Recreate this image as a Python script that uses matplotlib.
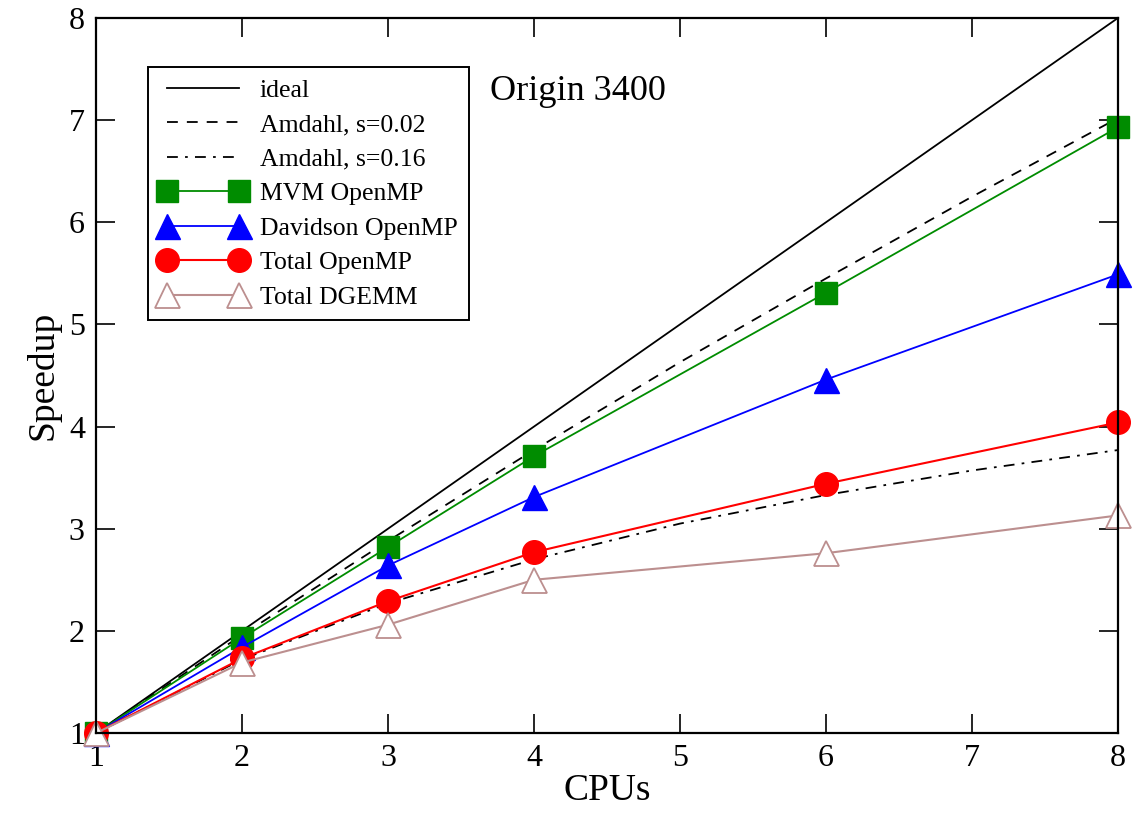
import matplotlib
matplotlib.use("Agg")
import matplotlib.pyplot as plt

plt.rcParams['font.family'] = ['Liberation Serif', 'DejaVu Serif']

cpus = [1, 2, 3, 4, 6, 8]
cpus_all = [1, 2, 3, 4, 5, 6, 7, 8]

ideal = [1, 2, 3, 4, 5, 6, 7, 8]
amdahl_002 = [1.0, 1.96, 2.88, 3.77, 4.63, 5.45, 6.25, 7.02]
amdahl_016 = [1.0, 1.72, 2.27, 2.70, 3.05, 3.33, 3.57, 3.77]

mvm = [1.0, 1.93, 2.82, 3.71, 5.31, 6.93]
davidson = [1.0, 1.84, 2.64, 3.31, 4.46, 5.49]
total_omp = [1.0, 1.73, 2.29, 2.77, 3.44, 4.04]
total_dgemm = [1.0, 1.69, 2.06, 2.50, 2.76, 3.13]

fig = plt.figure(figsize=(11.38, 8.13), dpi=100)
ax = fig.add_axes([0.0844, 0.0984, 0.898, 0.8795])

ax.plot(cpus_all, ideal, color='black', lw=1.3, label='ideal')
ax.plot(cpus_all, amdahl_002, color='black', lw=1.3, ls=(0, (6, 5)), label='Amdahl, s=0.02')
ax.plot(cpus_all, amdahl_016, color='black', lw=1.3, ls=(0, (6, 4, 1.5, 4)), label='Amdahl, s=0.16')
ax.plot(cpus, mvm, color='#008c00', lw=1.3, marker='s', ms=16, clip_on=False, label='MVM OpenMP')
ax.plot(cpus, davidson, color='#0000ff', lw=1.3, marker='^', ms=18, clip_on=False, label='Davidson OpenMP')
ax.plot(cpus, total_omp, color='#ff0000', lw=1.5, marker='o', ms=17, clip_on=False, label='Total OpenMP')
ax.plot(cpus, total_dgemm, color='#bc8f8f', lw=1.5, marker='^', ms=18, clip_on=False,
        mfc='white', mec='#bc8f8f', mew=1.3, label='Total DGEMM')

ax.set_xlim(1, 8)
ax.set_ylim(1, 8)
ax.set_xticks(range(1, 9))
ax.set_yticks(range(1, 9))
ax.tick_params(direction='in', length=14, width=1.2, top=True, right=True,
               labelsize=23, pad=8)
for s in ax.spines.values():
    s.set_linewidth(1.6)

ax.set_xlabel('CPUs', fontsize=27, labelpad=0)
ax.set_ylabel('Speedup', fontsize=27, labelpad=6)

ax.text(3.70, 7.28, 'Origin 3400', fontsize=26, va='center', ha='left')

leg = ax.legend(loc='upper left', bbox_to_anchor=(0.130, 0.9176), bbox_transform=fig.transFigure,
                borderaxespad=0, fontsize=18.5, numpoints=2, handlelength=3.4, handletextpad=0.5,
                labelspacing=0.45, borderpad=0.45, fancybox=False, framealpha=1,
                edgecolor='black', markerscale=1.0)
leg.get_frame().set_linewidth(1.4)

fig.savefig('out.png', dpi=100)
